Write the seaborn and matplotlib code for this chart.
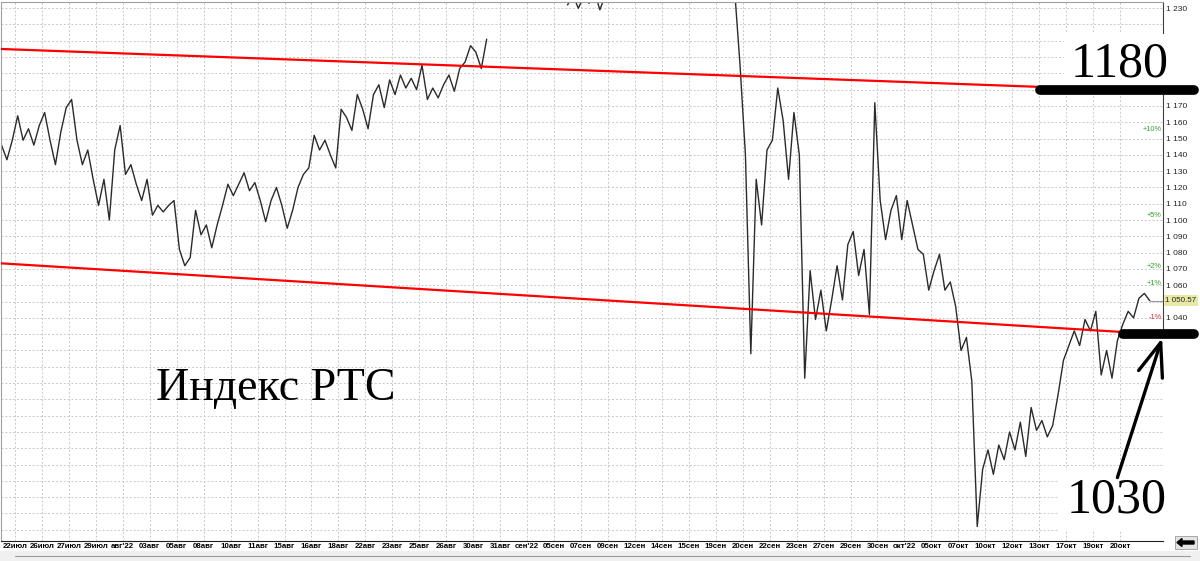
import numpy as np
import pandas as pd
import matplotlib
matplotlib.use("Agg")
import matplotlib.pyplot as plt
import seaborn as sns
from matplotlib.patches import Rectangle, FancyArrow

nan = np.nan

# RTS index, 5 bars per date label; nan = bar outside the visible window
prices = [
    1146, 1137, 1149, 1164, 1149, 1156, 1146, 1158, 1166, 1149,
    1134, 1154, 1169, 1174, 1149, 1134, 1143, 1125, 1109, 1125,
    1100, 1143, 1158, 1128, 1134, 1122, 1112, 1125, 1103, 1109,
    1105, 1109, 1112, 1082, 1072, 1077, 1106, 1091, 1097, 1083,
    1097, 1109, 1122, 1115, 1122, 1129, 1118, 1123, 1112, 1099,
    1112, 1120, 1109, 1095, 1106, 1120, 1128, 1132, 1152, 1143,
    1149, 1140, 1132, 1168, 1163, 1155, 1177, 1168, 1156, 1177,
    1183, 1169, 1186, 1177, 1189, 1181, 1187, 1180, 1195, 1174,
    1181, 1175, 1183, 1189, 1179, 1193, 1197, 1207, 1203, 1193,
    1211,
    nan, nan, nan, nan, nan, nan, nan, nan, nan, nan, nan, nan, nan, nan,
    1232, 1238, 1230, 1237, 1233, 1240, 1229, 1238,
    nan, nan, nan, nan, nan, nan, nan, nan, nan, nan, nan, nan,
    nan, nan, nan, nan, nan, nan, nan, nan, nan, nan, nan,
    1241, 1195, 1140, 1018,
    1125, 1097, 1143, 1149, 1181, 1161, 1125, 1166, 1140, 1003,
    1069, 1039, 1057, 1032, 1051, 1072, 1051, 1085, 1093, 1066,
    1082, 1042, 1172, 1112, 1088, 1106, 1115, 1088, 1112, 1097,
    1082, 1079, 1057, 1069, 1079, 1057, 1062, 1047, 1020, 1028,
    1001, 912, 947, 959, 944, 962, 953, 970, 959, 976,
    955, 985, 971, 977, 967, 974, 993, 1014, 1023, 1032,
    1023, 1039, 1032, 1044, 1005, 1020, 1003, 1026, 1036, 1044,
    1040, 1052, 1055, 1050.57,
]

date_labels = [
    "22июл", "26июл", "27июл", "29июл", "авг'22", "03авг", "05авг", "08авг",
    "10авг", "11авг", "15авг", "16авг", "18авг", "22авг", "23авг", "25авг",
    "26авг", "30авг", "31авг", "сен'22", "05сен", "07сен", "09сен", "12сен",
    "14сен", "15сен", "19сен", "20сен", "22сен", "23сен", "27сен", "29сен",
    "30сен", "окт'22", "05окт", "07окт", "10окт", "12окт", "13окт", "17окт",
    "19окт", "20окт",
]

grid_levels = list(range(910, 1231, 10))
shown_levels = [1230, 1170, 1160, 1150, 1140, 1130, 1120, 1110, 1100,
                1090, 1080, 1070, 1060, 1040]

upper_trend_x = [-0.3, 192.7]
upper_trend_y = [1205.0, 1181.7]
lower_trend_x = [-0.3, 208.1]
lower_trend_y = [1073.5, 1031.3]

level_hi = 1180
level_lo = 1030
pct_levels = [10, 5, 2, 1, -1]
last_price = 1050.57

sns.set_style("white")
plt.rcParams["font.family"] = ["Liberation Sans", "DejaVu Sans"]

fig = plt.figure(figsize=(12, 5.61), dpi=100)
ax = fig.add_axes([0.001, 20 / 561, 1162 / 1200, 539 / 561])

df = pd.DataFrame({"bar": np.arange(len(prices)), "price": prices})
df["seg"] = df["price"].isna().cumsum()
df = df.dropna()

sns.lineplot(
    data=df, x="bar", y="price", units="seg", estimator=None, sort=False,
    color="#2b2b2b", lw=1.0, ax=ax, legend=False
)

xmin, xmax = -0.06, 215.5
ax.set_xlim(xmin, xmax)
ax.set_ylim(903.1, 1233.8)

# trend lines
ax.plot(upper_trend_x, upper_trend_y, color="#ff0000", lw=1.6, zorder=3)
ax.plot(lower_trend_x, lower_trend_y, color="#ff0000", lw=1.6, zorder=3)

# grid and axes
date_pos = [2.5 + 5 * k for k in range(len(date_labels))]
ax.set_xticks(date_pos)
ax.set_xticklabels(date_labels)
ax.set_yticks(grid_levels)
ax.set_yticklabels([
    f"{v // 1000} {v % 1000:03d}" if v in shown_levels else ""
    for v in grid_levels
])
ax.yaxis.tick_right()
ax.grid(True, color="#c8c8c8", linestyle=(0, (2, 2)), lw=0.7)
ax.set_axisbelow(True)
ax.tick_params(axis="y", length=0, pad=2, labelsize=6, labelcolor="#222222")
ax.tick_params(axis="x", length=0, pad=1.5, labelsize=5.7, labelcolor="black")
for t in ax.get_xticklabels():
    t.set_fontweight("bold")
ax.set_xlabel("")
ax.set_ylabel("")

ax.spines["top"].set_color("#a0a0a0")
ax.spines["left"].set_color("#a0a0a0")
ax.spines["bottom"].set_color("#202020")
ax.spines["bottom"].set_linewidth(0.8)
ax.spines["right"].set_color("#404040")
ax.spines["right"].set_linewidth(0.8)
ax.spines["right"].set_bounds(level_lo, 1233.8)

# percent marks relative to the last price
for pct in pct_levels:
    ax.text(
        xmax - 0.3, last_price * (1 + pct / 100), f"{pct:+d}%",
        ha="right", va="center", fontsize=5.3,
        color="#2ca02c" if pct > 0 else "#e03030"
    )

ax.plot([df["bar"].iloc[-1], xmax], [last_price, last_price],
        color="#999999", lw=0.8)
ax.text(
    xmax + 0.4, last_price, "1 050.57", ha="left", va="center",
    fontsize=5.8, clip_on=False,
    bbox=dict(fc="#e9e9a6", ec="none", pad=1.2)
)

# annotations
ax.text(
    207.5, 1187.8, "1180", ha="center", va="baseline", fontsize=36,
    family="Liberation Serif", color="black", zorder=4, clip_on=False,
    bbox=dict(fc="white", ec="none", pad=5)
)
ax.text(
    206.8, 920.3, "1030", ha="center", va="baseline", fontsize=36,
    family="Liberation Serif", color="black", zorder=4, clip_on=False,
    bbox=dict(fc="white", ec="none", pad=5)
)
ax.text(
    50.9, 989.6, "Индекс РТС", ha="center", va="baseline", fontsize=33,
    family="Liberation Serif", color="black", zorder=4
)

ax.plot([192.7, 221.2], [level_hi, level_hi], color="black", lw=7,
        solid_capstyle="round", clip_on=False, zorder=6)
ax.plot([208.1, 221.2], [level_lo, level_lo], color="black", lw=7,
        solid_capstyle="round", clip_on=False, zorder=6)

ax.annotate(
    "", xy=(215.3, 1027.6), xytext=(207, 942),
    arrowprops=dict(arrowstyle="->,head_length=1.2,head_width=0.45",
                    lw=2.4, color="black", mutation_scale=20,
                    shrinkA=0, shrinkB=0),
    annotation_clip=False, zorder=6
)

# bottom strip with scroll button
fig.add_artist(Rectangle((0, 0), 1, 10 / 561, transform=fig.transFigure,
                         fc="#f0f0f0", ec="none"))
fig.add_artist(plt.Line2D([15 / 1200, 1190 / 1200], [5 / 561, 5 / 561],
                          transform=fig.transFigure, color="#9a9a9a", lw=0.8))
fig.add_artist(Rectangle((1175 / 1200, 12 / 561), 22 / 1200, 13 / 561,
                         transform=fig.transFigure, fc="#e4e4e4",
                         ec="#9a9a9a", lw=0.6))
fig.add_artist(FancyArrow(11.94, 0.185, -0.12, 0, width=0.03,
                          head_width=0.08, head_length=0.05,
                          transform=fig.dpi_scale_trans, color="black"))

fig.savefig("out.png", dpi=100)
